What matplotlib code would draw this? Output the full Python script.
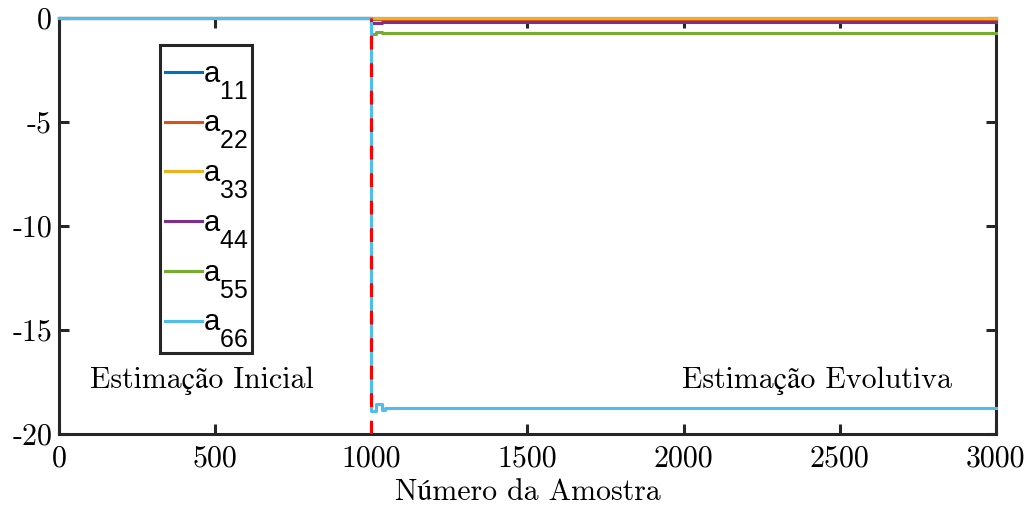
import matplotlib
matplotlib.use("Agg")
import matplotlib.pyplot as plt
import matplotlib._mathtext as mathtext_engine
from matplotlib.patches import Rectangle

# --- parameters estimated per sample (piecewise constant between breakpoints) ---
amostras = [0, 999, 1000, 1015, 1034, 1044, 1066, 3000]
a11 = [0.0, 0.0, 0.0, 0.0, 0.0, 0.0, 0.0, 0.0]
a22 = [0.0, 0.0, -0.06, -0.06, -0.06, -0.06, -0.06, -0.06]
a33 = [0.0, 0.0, 0.0, 0.0, 0.0, 0.0, 0.0, 0.0]
a44 = [0.0, 0.0, -0.22, -0.22, -0.2, -0.17, -0.17, -0.17]
a55 = [0.0, 0.0, -0.76, -0.68, -0.74, -0.74, -0.74, -0.74]
a66 = [0.0, 0.0, -18.9, -18.56, -18.85, -18.75, -18.72, -18.72]

series = [a11, a22, a33, a44, a55, a66]
nomes = ['11', '22', '33', '44', '55', '66']
cores = ['#0072BD', '#D95319', '#EDB120', '#7E2F8E', '#77AC30', '#4DBEEE']

amostra_troca = 1000
yticks = [-20, -15, -10, -5, 0]
ytick_labels = ['-20', '-15', '-10', '-5', '0']
xticks = [0, 500, 1000, 1500, 2000, 2500, 3000]
xtick_labels = ['0', '500', '1000', '1500', '2000', '2500', '3000']

# --- fonts ---
serif = ['cmr10', 'STIXGeneral', 'DejaVu Serif']
plt.rcParams['mathtext.fontset'] = 'custom'
plt.rcParams['mathtext.rm'] = 'Liberation Sans'
plt.rcParams['mathtext.it'] = 'Liberation Sans:italic'
plt.rcParams['axes.unicode_minus'] = False
plt.rcParams['axes.formatter.use_mathtext'] = True
# bigger, lower subscripts in the legend labels
mathtext_engine.SHRINK_FACTOR = 0.85
mathtext_engine.FontConstantsBase.sub1 = 1.1

fs = 21.5
cor_eixo = '#262626'

fig = plt.figure(figsize=(10.31, 5.15), dpi=100)
ax = fig.add_axes([0.0572, 0.157, 0.9088, 0.808])

for vals, nome, cor in zip(series, nomes, cores):
    ax.plot(amostras, vals, drawstyle='steps-post', color=cor, lw=2.2,
            label=r'$\mathrm{a_{%s}}$' % nome, clip_on=False, zorder=3)

# separation between initial and evolving estimation
ax.plot([amostra_troca, amostra_troca], [-20, 0], color='#FF0000', lw=2.2,
        dashes=(4.5, 4.5), zorder=4)

ax.set_xlim(0, 3000)
ax.set_ylim(-20, 0)
ax.set_xticks(xticks)
ax.set_xticklabels(xtick_labels, family=serif, fontsize=fs)
ax.set_yticks(yticks)
ax.set_yticklabels(ytick_labels, family=serif, fontsize=fs)
ax.tick_params(direction='in', length=7, width=2.2, color=cor_eixo,
               top=True, right=True, pad=5)
ax.tick_params(axis='x', pad=8)
for s in ax.spines.values():
    s.set_linewidth(2.2)
    s.set_color(cor_eixo)

ax.set_xlabel('Número da Amostra', family=serif, fontsize=fs, labelpad=4)

ax.text(458, -17.45, 'Estimação Inicial', family=serif, fontsize=fs,
        ha='center', va='center')
ax.text(2427, -17.45, 'Estimação Evolutiva', family=serif, fontsize=fs,
        ha='center', va='center')

# legend box drawn separately so the padding can differ per side
ax.add_patch(Rectangle((0.1078, 0.195), 0.0982, 0.740, transform=ax.transAxes,
                       facecolor='white', edgecolor=cor_eixo, lw=2.2,
                       zorder=4.9))
leg = ax.legend(loc='upper left', bbox_to_anchor=(0.1131, 0.899),
                borderaxespad=0, frameon=False, fontsize=21,
                handlelength=1.27, handletextpad=0.03, labelspacing=0.28,
                borderpad=0)

fig.savefig('out.png', dpi=100)
